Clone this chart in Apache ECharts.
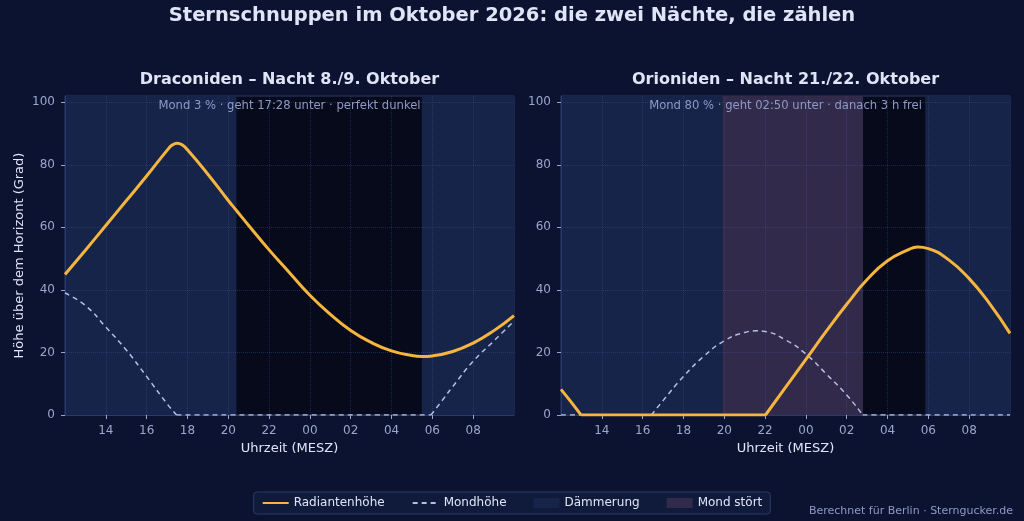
<!DOCTYPE html>
<html><head><meta charset="utf-8">
<script src="https://cdn.jsdelivr.net/npm/echarts@6/dist/echarts.min.js"></script>
<style>html,body{margin:0;padding:0;background:#0c1330;}#c{width:1024px;height:521px;}</style>
</head><body><div id="c"></div>
<script>
// ---- data (hours since midnight of first day; 24+ = next morning); null = segment break ----
const draRadHours = [12,13,14,15,16,17,17.25,17.5,17.75,18,19,20,20.4,21,22,23,24,25,26,27,28,29,29.5,30,31,32,33,34];
const draRadAlt   = [44.9,52.7,60.6,68.5,76.4,84.6,86.3,86.9,86.3,84.8,77.0,68.6,65.4,60.6,52.8,45.5,38.3,32.2,27.0,23.2,20.5,19.0,18.7,18.9,20.3,23.0,26.9,31.8];
const draMoonHours = [12,13,14,15,16,17,17.47,17.47,17.47,29.93,29.93,29.93,30.5,31,32,33,34];
const draMoonAlt   = [39.0,35.0,28.1,20.8,12.3,3.6,0,null,0,0,null,0,4.8,9.1,17.2,23.6,30.0];
const oriRadHours = [12,12.5,12.98,12.98,12.98,22.02,22.02,22.02,23,24,25,26,27,28,29,29.47,30,31,32,33,34];
const oriRadAlt   = [8.2,4.1,0,null,0,0,null,0,8.8,17.8,26.8,35.4,43.3,49.3,52.8,53.7,53.2,49.6,43.6,35.6,26.1];
const oriMoonHours = [12,16.43,16.43,16.43,17,18,19,20,21,21.6,22,23,24,25,26,26.78,26.78,26.78,34];
const oriMoonAlt   = [0,0,null,0,4.6,12.3,18.8,23.7,26.4,26.9,26.7,24.0,19.5,13.1,6.4,0,null,0,0];
const draTwilight = [[12,20.4],[29.48,34]];
const oriTwilight = [[12,19.9],[29.85,34]];
const oriMoonBand = [[19.9,26.8]];
const xTicks = [14,16,18,20,22,24,26,28,30,32];
const yTicks = [0,20,40,60,80,100];
const panelTitles = ['Draconiden – Nacht 8./9. Oktober','Orioniden – Nacht 21./22. Oktober'];
const panelNotes = ['Mond 3 % · geht 17:28 unter · perfekt dunkel','Mond 80 % · geht 02:50 unter · danach 3 h frei'];
const mainTitle = 'Sternschnuppen im Oktober 2026: die zwei Nächte, die zählen';
const credit = 'Berechnet für Berlin · Sterngucker.de';

const C = {bg:'#0c1330', night:'#060a1a', twi:'#16244a', moonBand:'#322a4b', rad:'#f5b53f', moon:'#b4bfe6',
  border:'#2b3a6b', grid:'rgba(70,95,160,0.35)', tick:'#9aa6cc', txt:'#dfe5f7', note:'#8e9ac6'};
const FF = 'DejaVu Sans';
const zip = (h,v)=>h.map((x,i)=>[x,v[i]===null?null:v[i]]);
const bands = arr => arr.map(b=>[{xAxis:b[0]},{xAxis:b[1]}]);

function xAxis(i){return {type:'value',gridIndex:i,min:12,max:34,interval:2,
  name:'Uhrzeit (MESZ)',nameLocation:'middle',nameGap:26,nameTextStyle:{color:C.txt,fontSize:13,fontFamily:FF},
  axisLine:{show:true,lineStyle:{color:C.border}},
  axisTick:{show:true,length:4,lineStyle:{color:C.tick},customValues:xTicks},
  axisLabel:{color:C.tick,fontSize:12,fontFamily:FF,margin:10,customValues:xTicks,
    formatter:v=>String(((v%24)+24)%24).padStart(2,'0')},
  splitLine:{show:true,lineStyle:{color:C.grid,type:'dotted',width:1}}, z:2};}
function yAxis(i){return {type:'value',gridIndex:i,min:0,max:102,interval:20,
  name:i===0?'Höhe über dem Horizont (Grad)':'',nameLocation:'middle',nameGap:39,
  nameTextStyle:{color:C.txt,fontSize:13,fontFamily:FF},
  axisLine:{show:true,lineStyle:{color:C.border}},
  axisTick:{show:true,length:4,lineStyle:{color:C.tick},customValues:yTicks},
  axisLabel:{color:C.tick,fontSize:12,fontFamily:FF,margin:10,customValues:yTicks},
  splitLine:{show:true,lineStyle:{color:C.grid,type:'dotted',width:1}}, z:2};}

function bandSeries(name,i,color,arr){return {name,type:'line',xAxisIndex:i,yAxisIndex:i,data:[],z:1,
  color, itemStyle:{color}, lineStyle:{color},
  markArea:{silent:true,itemStyle:{color,opacity:1},data:bands(arr)}};}
function radSeries(i,data){return {name:'Radiantenhöhe',type:'line',xAxisIndex:i,yAxisIndex:i,data,smooth:0.5,
  symbol:'none',connectNulls:false,z:4,color:C.rad,lineStyle:{color:C.rad,width:3},clip:true};}
function moonSeries(i,data){return {name:'Mondhöhe',type:'line',xAxisIndex:i,yAxisIndex:i,data,smooth:0.5,
  symbol:'none',connectNulls:false,z:3,color:C.moon,lineStyle:{color:C.moon,width:1.5,type:[5,4]},clip:true};}

const txt = (x,y,text,size,fill,weight,align)=>({type:'text',x,y,z:10,silent:true,
  style:{text,fontSize:size,fontFamily:FF,fontWeight:weight||'normal',fill,align:align||'center',verticalAlign:'middle'}});

const chart = echarts.init(document.getElementById('c'),null,{renderer:'canvas'});
chart.setOption({
  backgroundColor:C.bg,
  animation:false,
  textStyle:{fontFamily:FF},
  grid:[
    {left:65,right:510,top:96,bottom:106,show:true,backgroundColor:C.night,borderColor:C.border,borderWidth:1},
    {left:561,right:14,top:96,bottom:106,show:true,backgroundColor:C.night,borderColor:C.border,borderWidth:1}
  ],
  xAxis:[xAxis(0),xAxis(1)],
  yAxis:[yAxis(0),yAxis(1)],
  legend:{bottom:7,left:'center',itemWidth:26,itemHeight:10,itemGap:27,padding:[5,8],
    backgroundColor:'#101a3a',borderColor:C.border,borderWidth:1,borderRadius:3,
    textStyle:{color:C.txt,fontSize:12,fontFamily:FF},
    data:[{name:'Radiantenhöhe',itemStyle:{opacity:0}},{name:'Mondhöhe',itemStyle:{opacity:0}},
          {name:'Dämmerung',icon:'rect'},{name:'Mond stört',icon:'rect'}]},
  series:[
    bandSeries('Dämmerung',0,C.twi,draTwilight),
    bandSeries('Dämmerung',1,C.twi,oriTwilight),
    bandSeries('Mond stört',1,C.moonBand,oriMoonBand),
    moonSeries(0,zip(draMoonHours,draMoonAlt)),
    radSeries(0,zip(draRadHours,draRadAlt)),
    moonSeries(1,zip(oriMoonHours,oriMoonAlt)),
    radSeries(1,zip(oriRadHours,oriRadAlt))
  ],
  graphic:[
    txt(512,16,mainTitle,19.5,C.txt,'bold'),
    txt(289.5,80,panelTitles[0],16,C.txt,'bold'),
    txt(785.5,80,panelTitles[1],16,C.txt,'bold'),
    txt(289.5,106,panelNotes[0],11.6,C.note),
    txt(785.5,106,panelNotes[1],11.6,C.note),
    txt(1013,511,credit,11,C.note,'normal','right')
  ]
});
</script></body></html>
